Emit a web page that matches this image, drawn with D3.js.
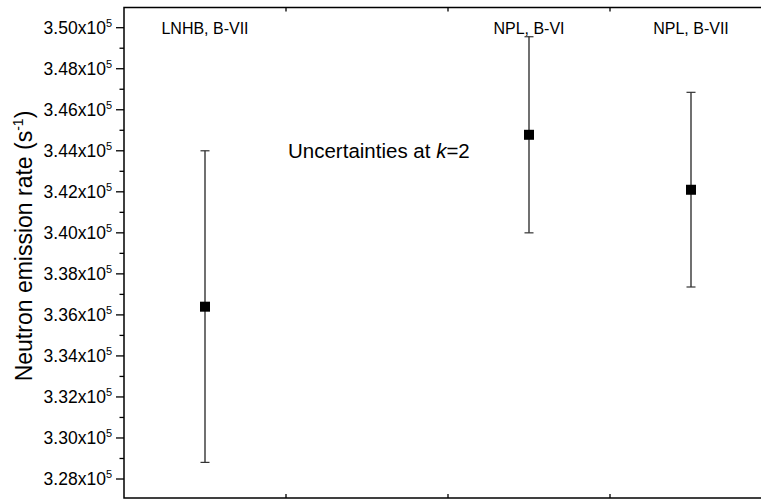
<!DOCTYPE html>
<html>
<head>
<meta charset="utf-8">
<script src="https://cdn.jsdelivr.net/npm/d3@7/dist/d3.min.js"></script>
<style>
html,body{margin:0;padding:0;background:#fff;}
svg{display:block;font-family:Arial,"Liberation Sans",sans-serif;}
</style>
</head>
<body>
<svg id="chart" width="761" height="499"></svg>
<script>
// ---- data ----
const labels = ["LNHB, B-VII", "NPL, B-VI", "NPL, B-VII"];
const xPos = [0.5, 2.5, 3.5];
const values = [336400, 344780, 342100];
const errLow = [328810, 340000, 337360];
const errHigh = [344000, 349560, 346850];
const yMajorTicks = [328000, 330000, 332000, 334000, 336000, 338000, 340000, 342000, 344000, 346000, 348000, 350000];
const yMinorTicks = [329000, 331000, 333000, 335000, 337000, 339000, 341000, 343000, 345000, 347000, 349000];
const xTicks = [1, 2, 3];
const yTitle = "Neutron emission rate (s";
const note = "Uncertainties at ";

(function () {
const svg = d3.select("#chart");
const pL = 124, pR = 772, pT = 7.5, pB = 498;
const x = d3.scaleLinear().domain([0, 4]).range([pL, pR]);
const y = d3.scaleLinear().domain([327074, 350985]).range([pB, pT]);

// frame
svg.append("rect").attr("x", pL).attr("y", pT).attr("width", pR - pL).attr("height", pB - pT)
  .attr("fill", "none").attr("stroke", "#000").attr("stroke-width", 1.5);

// y axis ticks
const yAxis = svg.append("g");
yAxis.selectAll("line.maj").data(yMajorTicks).join("line").attr("class", "maj")
  .attr("x1", pL - 8).attr("x2", pL).attr("y1", d => y(d)).attr("y2", d => y(d))
  .attr("stroke", "#000").attr("stroke-width", 1.3);
yAxis.selectAll("line.min").data(yMinorTicks).join("line").attr("class", "min")
  .attr("x1", pL - 4.5).attr("x2", pL).attr("y1", d => y(d)).attr("y2", d => y(d))
  .attr("stroke", "#000").attr("stroke-width", 1.3);
const tl = yAxis.selectAll("text").data(yMajorTicks).join("text")
  .attr("x", 112).attr("y", d => y(d) + 6).attr("text-anchor", "end")
  .attr("font-size", 17.5).attr("fill", "#000");
tl.append("tspan").text(d => (d / 1e5).toFixed(2) + "x10");
tl.append("tspan").attr("font-size", 11).attr("dy", -7).text("5");

// x ticks (inward, bottom and top)
svg.selectAll("line.xb").data(xTicks).join("line").attr("class", "xb")
  .attr("x1", d => x(d)).attr("x2", d => x(d)).attr("y1", pB).attr("y2", pB - 4)
  .attr("stroke", "#000").attr("stroke-width", 1.3);
svg.selectAll("line.xt").data(xTicks).join("line").attr("class", "xt")
  .attr("x1", d => x(d)).attr("x2", d => x(d)).attr("y1", pT).attr("y2", pT + 4)
  .attr("stroke", "#000").attr("stroke-width", 1.3);

// y title
const yt = svg.append("text")
  .attr("transform", `translate(32,246) rotate(-90)`)
  .attr("text-anchor", "middle").attr("font-size", 23).attr("fill", "#000");
yt.append("tspan").text(yTitle);
yt.append("tspan").attr("font-size", 14).attr("dy", -9).text("-1");
yt.append("tspan").attr("dy", 9).text(")");

// error bars
const g = svg.append("g");
values.forEach((v, i) => {
  const cx = x(xPos[i]);
  g.append("line").attr("x1", cx).attr("x2", cx).attr("y1", y(errHigh[i])).attr("y2", y(errLow[i]))
    .attr("stroke", "#111").attr("stroke-width", 1.2);
  [errHigh[i], errLow[i]].forEach(e => {
    g.append("line").attr("x1", cx - 4.5).attr("x2", cx + 4.5).attr("y1", y(e)).attr("y2", y(e))
      .attr("stroke", "#333").attr("stroke-width", 1.2);
  });
  g.append("rect").attr("x", cx - 5).attr("y", y(v) - 5).attr("width", 10).attr("height", 10).attr("fill", "#000");
});

// labels
svg.selectAll("text.lab").data(labels).join("text").attr("class", "lab")
  .attr("x", (d, i) => x(xPos[i])).attr("y", 34).attr("text-anchor", "middle")
  .attr("font-size", 16).attr("fill", "#000").text(d => d);

// note
const nt = svg.append("text").attr("x", 288).attr("y", 158).attr("font-size", 20.5).attr("fill", "#000");
nt.append("tspan").text(note);
nt.append("tspan").attr("font-style", "italic").text("k");
nt.append("tspan").text("=2");
})();
</script>
</body>
</html>
